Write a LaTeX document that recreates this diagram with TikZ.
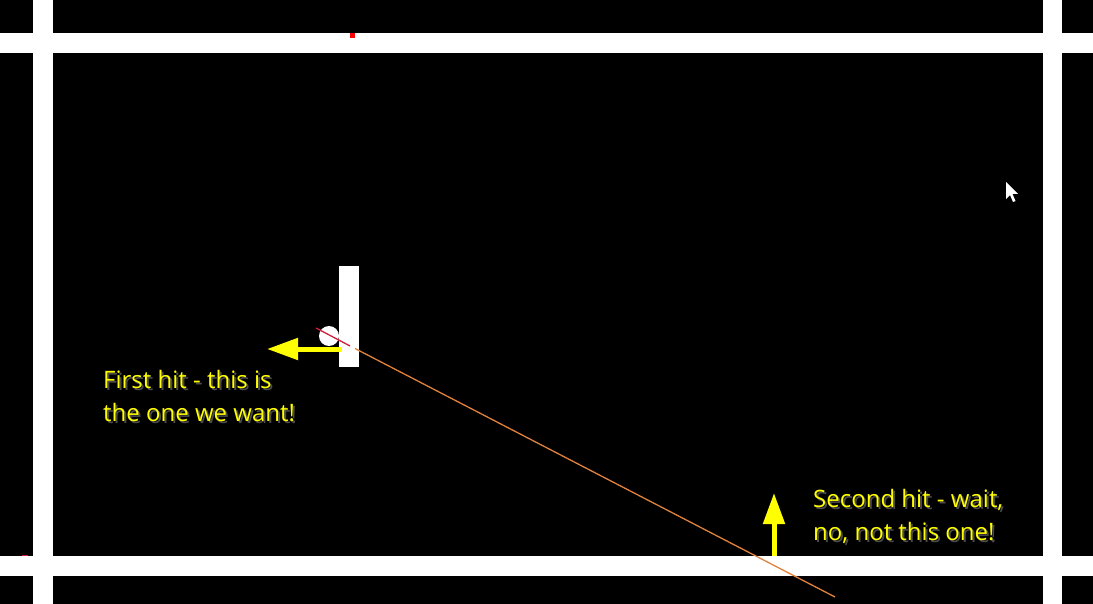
\documentclass[tikz,border=0pt]{standalone}
\usepackage{fontspec}
\setmainfont{Open Sans}
\usetikzlibrary{arrows.meta}
\definecolor{hityellow}{RGB}{255,255,0}
\definecolor{rayorange}{RGB}{225,130,60}
\definecolor{rayred}{RGB}{210,30,60}
\definecolor{shadowgray}{RGB}{75,75,75}
\tikzset{
  bar/.style={fill=white},
  txt/.style={text=hityellow, font=\fontsize{24}{28}\selectfont, inner sep=0pt, anchor=base west},
  shd/.style={text=shadowgray, font=\fontsize{24}{28}\selectfont, inner sep=0pt, anchor=base west},
  hitarrow/.style={draw=hityellow, line width=5pt, -{Triangle[length=31pt,width=21pt]}},
}
\begin{document}
\begin{tikzpicture}[x=1pt,y=-1pt]
\useasboundingbox (0,0) rectangle (1093,604);
\fill[black] (0,0) rectangle (1093,604);
% walls
\fill[bar] (0,33) rectangle (1093,53);
\fill[bar] (0,556) rectangle (1093,576);
\fill[bar] (33,0) rectangle (53,604);
\fill[bar] (1043,0) rectangle (1062,604);
% red marks
\fill[red] (350,33) rectangle (355,38);
\draw[rayred, line width=1pt] (22,555.5) -- (28,555.5);
% ball and paddle
\node[circle, fill=white, minimum size=20pt, inner sep=0pt] (ball) at (329,336) {};
\node[fill=white, minimum width=20pt, minimum height=101pt, inner sep=0pt] (paddle) at (349,316.5) {};
% rays
\coordinate (r1) at (316,328);
\coordinate (r2) at (350,346);
\coordinate (r3) at (355,348.5);
\coordinate (r4) at (835,597);
\draw[rayred, line width=1.3pt] (r1) -- (r2);
\draw[rayorange, line width=1.3pt] (r3) -- (r4);
% arrows
\coordinate (a1s) at (342,349);
\coordinate (a1e) at (267,349);
\coordinate (a2s) at (774,556);
\coordinate (a2e) at (774,493);
\draw[hitarrow] (a1s) -- (a1e);
\draw[hitarrow] (a2s) -- (a2e);
% cursor
\fill[white] (1006,182) -- ++(0,17) -- ++(4,-4) -- ++(3,7) -- ++(2.5,-1) -- ++(-3,-7) -- ++(5.5,0) -- cycle;
% labels
\node[shd] (s1a) at (105,390) {First hit - this is};
\node[shd] (s1b) at (105,423) {the one we want!};
\node[shd] (s2a) at (815,509) {Second hit - wait,};
\node[shd] (s2b) at (815,542) {no, not this one!};
\node[txt] (t1a) at (103,388) {First hit - this is};
\node[txt] (t1b) at (103,421) {the one we want!};
\node[txt] (t2a) at (813,507) {Second hit - wait,};
\node[txt] (t2b) at (813,540) {no, not this one!};
\end{tikzpicture}
\end{document}
